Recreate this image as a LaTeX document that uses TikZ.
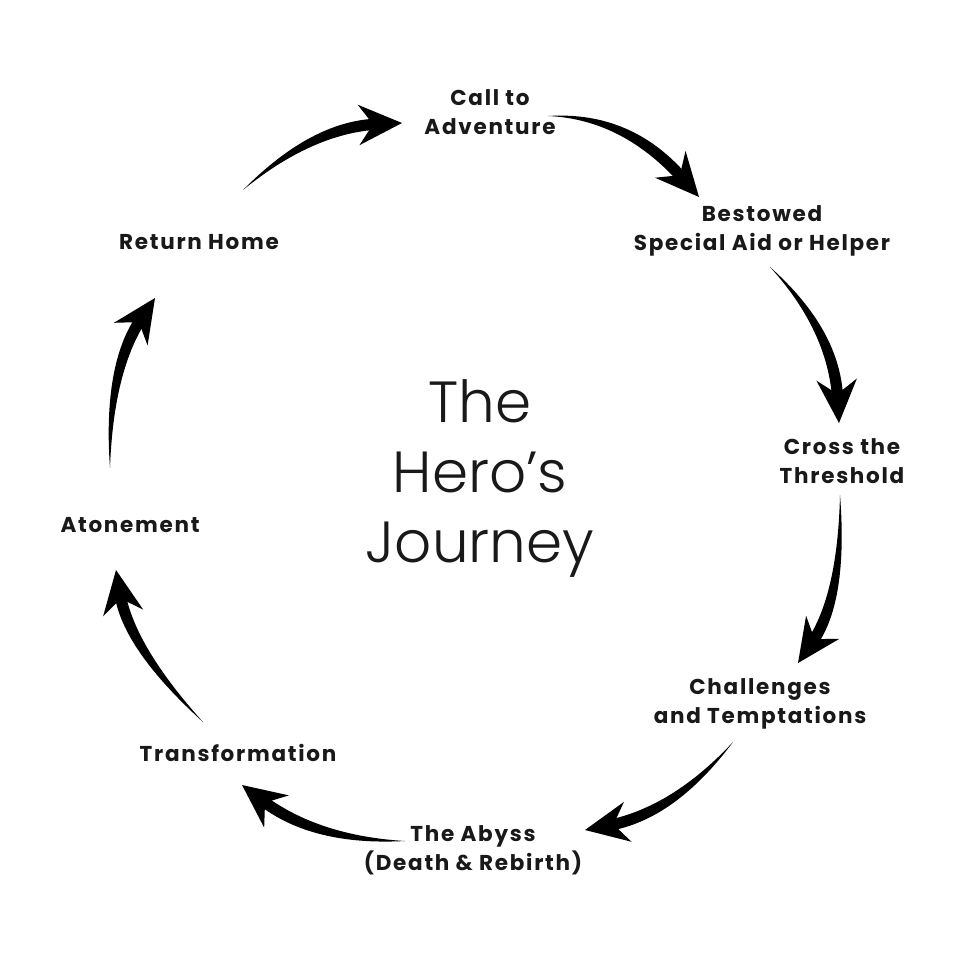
\documentclass[tikz,border=0pt]{standalone}
\usepackage{fontspec}
\usetikzlibrary{calc}
\setmainfont{Poppins}
\newfontfamily\titlefont{Poppins Light}
\newfontfamily\stagefont{Poppins}[LetterSpace=8]
\tikzset{
  x=1pt, y=-1pt,
  stage/.style={font=\stagefont\fontsize{21.5}{29}\selectfont\bfseries, text=black!90, align=center, inner sep=0pt},
  titletext/.style={font=\titlefont\fontsize{58}{70}\selectfont, text=black!90, align=center, inner sep=0pt},
}
\newcommand{\heroarrow}[4]{%
  \coordinate (#1P) at (#2);
  \coordinate (#1C) at (#3);
  \coordinate (#1T) at (#4);
  \coordinate (#1N) at ($(#1T)!24pt!(#1C)$);
  \coordinate (#1NL) at ($(#1N)!5.5pt!90:(#1C)$);
  \coordinate (#1NR) at ($(#1N)!5.5pt!-90:(#1C)$);
  \coordinate (#1CL) at ($(#1C)!6.5pt!-90:(#1N)$);
  \coordinate (#1CR) at ($(#1C)!6.5pt!90:(#1N)$);
  \fill[black] (#1P) .. controls ($(#1P)!0.667!(#1CL)$) and ($(#1NL)!0.667!(#1CL)$) .. (#1NL)
     -- (#1NR) .. controls ($(#1NR)!0.667!(#1CR)$) and ($(#1P)!0.667!(#1CR)$) .. (#1P) -- cycle;
  \fill[black] (#1T) -- ($(#1T)!48pt!25:(#1C)$) -- ($(#1T)!29pt!(#1C)$) -- ($(#1T)!48pt!-25:(#1C)$) -- cycle;
}
\begin{document}
\begin{tikzpicture}
\fill[white] (0,0) rectangle (958,958);
\useasboundingbox (0,0) rectangle (958,958);

\node[titletext] (title) at (480,478) {The\\Hero’s\\Journey};

\node[stage] (call) at (490,112) {Call to\\Adventure};
\node[stage] (aid) at (762,231) {Bestowed\\Special Aid or Helper};
\node[stage] (cross) at (842,461) {Cross the\\Threshold};
\node[stage] (chal) at (760,704) {Challenges\\and Temptations};
\node[stage] (abyss) at (473,850) {The Abyss\\(Death \& Rebirth)};
\node[stage] (trans) at (238,753) {Transformation};
\node[stage] (aton) at (130,525) {Atonement};
\node[stage] (ret) at (199,242) {Return Home};

\heroarrow{a1}{243,190}{312,127}{402,123}
\heroarrow{a2}{548,116}{627,115}{699,197}
\heroarrow{a3}{770,267}{834,330}{839,423}
\heroarrow{a4}{840,495}{843,598}{798,663}
\heroarrow{a5}{733,742}{674,813}{585,830}
\heroarrow{a6}{405,841}{315,841}{242,785}
\heroarrow{a7}{203,722}{129,648}{116,570}
\heroarrow{a8}{110,468}{108,368}{155,298}
\end{tikzpicture}
\end{document}
